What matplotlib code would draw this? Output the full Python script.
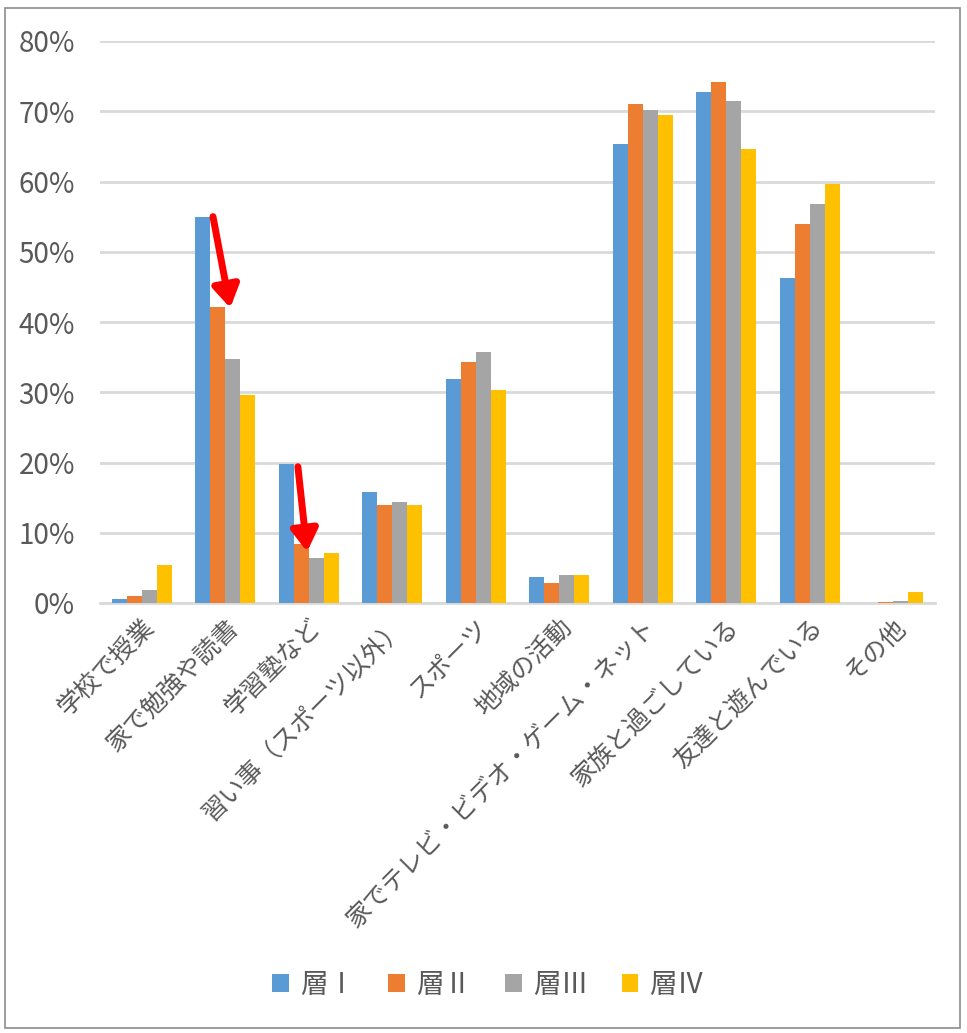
import numpy as np
import matplotlib.pyplot as plt
from matplotlib.patches import Rectangle, FancyArrowPatch
from matplotlib.ticker import PercentFormatter

plt.rcParams['font.family'] = ['Noto Sans CJK JP', 'DejaVu Sans']

categories = ['学校で授業', '家で勉強や読書', '学習塾など', '習い事（スポーツ以外）', 'スポーツ',
              '地域の活動', '家でテレビ・ビデオ・ゲーム・ネット', '家族と過ごしている', '友達と遊んでいる', 'その他']
series_names = ['層Ⅰ', '層Ⅱ', '層Ⅲ', '層Ⅳ']
layer1 = [0.5, 54.9, 19.8, 15.8, 31.9, 3.7, 65.4, 72.7, 46.2, 0.0]
layer2 = [1.0, 42.2, 8.4, 13.9, 34.3, 2.9, 71.0, 74.2, 53.9, 0.15]
layer3 = [1.9, 34.7, 6.4, 14.4, 35.7, 4.0, 70.2, 71.4, 56.8, 0.3]
layer4 = [5.4, 29.6, 7.1, 14.0, 30.3, 4.0, 69.5, 64.6, 59.7, 1.5]
colors = ['#5b9bd5', '#ed7d31', '#a5a5a5', '#ffc000']

fig = plt.figure(figsize=(9.67, 10.33), dpi=100)
ax = fig.add_axes([100/967, 1 - 603/1033, 835/967, 562/1033])

x = np.arange(len(categories))
w = 0.18
for i, (vals, name, c) in enumerate(zip([layer1, layer2, layer3, layer4], series_names, colors)):
    ax.bar(x + (i - 1.5) * w, vals, w, color=c, label=name, zorder=3)

ax.set_xlim(-0.5, len(categories) - 0.5)
ax.set_ylim(0, 80)
ax.set_yticks(np.arange(0, 81, 10))
ax.yaxis.set_major_formatter(PercentFormatter(decimals=0))
ax.grid(axis='y', color='#d9d9d9', linewidth=2, zorder=0)
for s in ['top', 'right', 'left']:
    ax.spines[s].set_visible(False)
ax.spines['bottom'].set_color('#d9d9d9')
ax.spines['bottom'].set_linewidth(2)
ax.tick_params(axis='both', length=0, colors='#595959')
ax.tick_params(axis='y', labelsize=20, pad=18)
ax.tick_params(axis='x', pad=8)
ax.set_xticks(x)
ax.set_xticklabels(categories, rotation=45, ha='right', rotation_mode='anchor', fontsize=18)

# red arrows showing the drop from layer I to II
for start, end in [((1 - 0.147, 55.0), (1 + 0.06, 42.0)), ((2 - 0.13, 19.4), (2 - 0.02, 7.3))]:
    ax.add_patch(FancyArrowPatch(start, end, arrowstyle='-|>,head_length=13,head_width=8',
                                 color='#ff0000', linewidth=5, zorder=5, shrinkA=0, shrinkB=0))

fig.legend(loc='center', bbox_to_anchor=(0.505, 1 - 985/1033), ncol=4, frameon=False,
           fontsize=20, handlelength=0.6, handleheight=0.6, columnspacing=1.2, handletextpad=0.4,
           labelcolor='#595959')

fig.add_artist(Rectangle((5/967, 5/1033), 955/967, 1020/1033, transform=fig.transFigure,
                         fill=False, edgecolor='#8c8c8c', linewidth=1.2))

fig.savefig('out.png', dpi=100)
